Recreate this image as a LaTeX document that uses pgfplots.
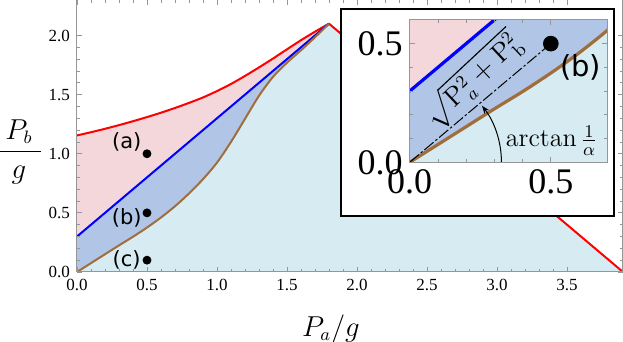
\documentclass[border=0pt]{standalone}
\usepackage{fontspec}
\usepackage{amsmath}
\usepackage{pgfplots}
\usepackage{pgfplotstable}
\pgfplotsset{compat=1.18}
\usetikzlibrary{arrows.meta,calc}

\newfontfamily\numfont{Liberation Serif}
\newfontfamily\labfont{DejaVu Sans}

\definecolor{regA}{RGB}{243,215,219}
\definecolor{regB}{RGB}{177,198,230}
\definecolor{regC}{RGB}{215,236,242}
\definecolor{brownline}{RGB}{160,110,60}
\definecolor{framegray}{RGB}{150,150,150}

% upper (red) boundary, left branch
\pgfplotstableread{
x y
0.0 1.155
0.1 1.182
0.2 1.211
0.3 1.242
0.4 1.275
0.5 1.310
0.6 1.347
0.7 1.387
0.8 1.430
0.9 1.476
1.0 1.530
1.1 1.590
1.2 1.658
1.3 1.730
1.4 1.805
1.5 1.883
1.6 1.960
1.7 2.032
1.8 2.100
}\redcurve

% lower (brown) boundary
\pgfplotstableread{
x y
0.0 0.0
0.1 0.075
0.2 0.15
0.3 0.225
0.4 0.298
0.5 0.376
0.6 0.461
0.7 0.556
0.8 0.664
0.9 0.785
1.0 0.925
1.1 1.10
1.2 1.295
1.3 1.49
1.4 1.65
1.5 1.77
1.6 1.875
1.7 1.985
1.8 2.10
}\browncurve

% regions and boundaries, shared by main plot and inset
\newcommand{\drawregions}[1]{%
  \addplot[draw=none, fill=regA, smooth] table {\redcurve} \closedcycle;
  \addplot[draw=none, fill=regB] coordinates {(0,0.3) (1.8,2.1)} \closedcycle;
  \addplot[draw=none, fill=regC, smooth] table {\browncurve} \closedcycle;
  \addplot[draw=none, fill=regC] coordinates {(1.8,2.1) (3.9,0)} \closedcycle;
  \addplot[red, line width=#1, smooth] table {\redcurve};
  \addplot[red, line width=#1] coordinates {(1.8,2.1) (3.9,0)};
  \addplot[blue, line width=#1] coordinates {(0,0.3) (1.8,2.1)};
  \addplot[brownline, line width=#1, smooth] table {\browncurve};
}

\begin{document}
\begin{tikzpicture}
\begin{axis}[
  name=main,
  scale only axis,
  width=273pt, height=136pt,
  xmin=0, xmax=3.9, ymin=0, ymax=2.3,
  xtick={0,0.5,1,1.5,2,2.5,3,3.5},
  ytick={0,0.5,1,1.5,2},
  minor x tick num=4, minor y tick num=4,
  major tick length=2.5pt, minor tick length=1.5pt,
  axis line style={framegray, line width=0.5pt},
  tick style={framegray, line width=0.4pt},
  ticklabel style={font=\numfont\fontsize{8.5}{10}\selectfont,
    /pgf/number format/fixed, /pgf/number format/fixed zerofill,
    /pgf/number format/precision=1, /pgf/number format/assume math mode=true},
  axis on top,
  clip mode=individual,
]
\drawregions{1pt}
\addplot[only marks, mark=*, mark size=2pt, black] coordinates {(0.5,1.0) (0.5,0.5) (0.5,0.1)};

\node[font=\labfont\fontsize{10.5}{12}\selectfont] at (axis cs:0.355,1.097) {(a)};
\node[font=\labfont\fontsize{10.5}{12}\selectfont] at (axis cs:0.355,0.455) {(b)};
\node[font=\labfont\fontsize{10.5}{12}\selectfont] at (axis cs:0.355,0.102) {(c)};

\node[font=\fontsize{13.5}{15}\selectfont] at (rel axis cs:0,0.442) [xshift=-29pt] {$\dfrac{\;P_b\;}{g}$};
\node[font=\fontsize{13.5}{15}\selectfont] at (rel axis cs:0.465,0) [yshift=-28.5pt] {$P_a/g$};
\end{axis}

% inset frame
\draw[black, line width=0.7pt, fill=white]
  ($(main.south west)+(132pt,28pt)$) rectangle ($(main.south west)+(268.5pt,131.5pt)$);

\begin{axis}[
  at={($(main.south west)+(166.35pt,54.85pt)$)},
  anchor=south west,
  scale only axis,
  width=98.8pt, height=71.2pt,
  xmin=0, xmax=0.7, ymin=0, ymax=0.6,
  xtick={0,0.5}, ytick={0,0.5},
  minor x tick num=4, minor y tick num=4,
  major tick length=2.5pt, minor tick length=1.5pt,
  axis line style={framegray, line width=0.5pt},
  tick style={framegray, line width=0.4pt},
  ticklabel style={font=\numfont\fontsize{18}{20}\selectfont,
    /pgf/number format/fixed, /pgf/number format/fixed zerofill,
    /pgf/number format/precision=1, /pgf/number format/assume math mode=true},
  axis on top,
  clip mode=individual,
]
\drawregions{1.6pt}
\addplot[black, line width=0.5pt, dash pattern=on 6pt off 1.2pt on 1.2pt off 1.2pt] coordinates {(0,0) (0.5,0.5)};
\addplot[only marks, mark=*, mark size=3.7pt, black] coordinates {(0.5,0.5)};

\draw[-{Stealth[length=4pt]}, line width=0.5pt] (axis cs:0.325,0) arc[start angle=0, end angle=38, radius=45.9pt];
\node[rotate=43, font=\fontsize{13.5}{15}\selectfont] at (axis cs:0.222,0.347)
  {$\sqrt{\mathrm{P}^2_{a}+\mathrm{P}^2_{\mathrm{b}}}$};
\node[anchor=base east, font=\fontsize{13}{15}\selectfont] at (axis cs:0.69,0.065) {$\arctan\frac{1}{\alpha}$};
\node[font=\labfont\fontsize{14.5}{16}\selectfont] at (axis cs:0.606,0.40) {(b)};
\end{axis}

\pgfresetboundingbox
\path[use as bounding box] ($(main.south west)+(-38.5pt,-35pt)$) rectangle (main.north east);
\end{tikzpicture}
\end{document}
